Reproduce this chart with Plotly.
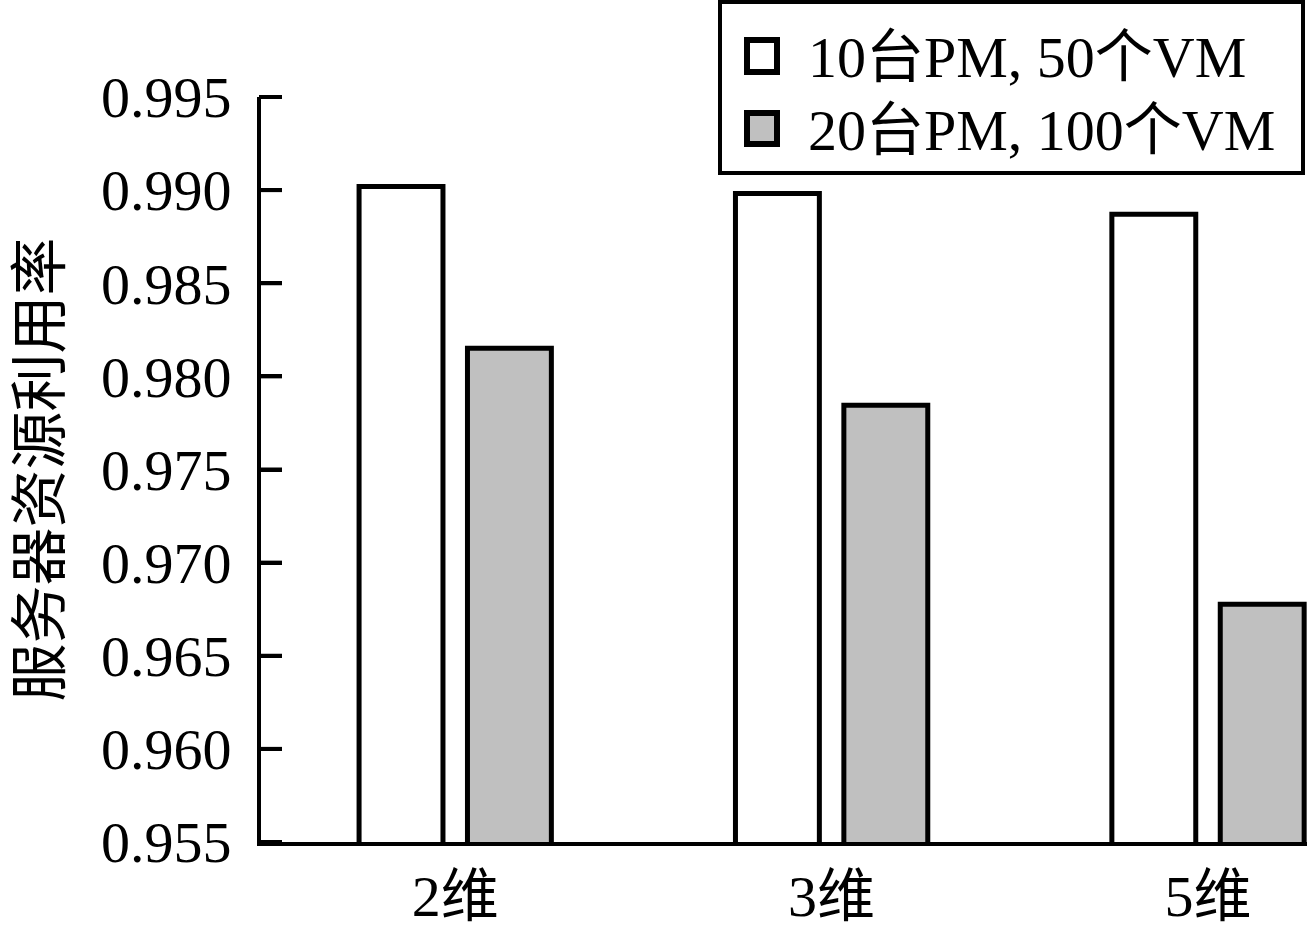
import plotly.graph_objects as go

categories = ["2维", "3维", "5维"]
series_names = ["10台PM, 50个VM", "20台PM, 100个VM"]
values_10pm = [0.99020, 0.98982, 0.98870]
values_20pm = [0.98151, 0.97845, 0.96777]
y_range = [0.955, 0.995]
y_tick_vals = [0.955, 0.960, 0.965, 0.970, 0.975, 0.980, 0.985, 0.990, 0.995]
y_title = "服务器资源利用率"
fills = ["white", "#c0c0c0"]

FONT = "Liberation Serif, 'Times New Roman', 'Noto Sans CJK SC', serif"
W, H = 1307, 934
ML, MR, MT, MB = 261, 0, 97, 92
PW, PH = W - ML - MR, H - MT - MB


def fx(px):
    return (px - ML) / PW


def fy(py):
    return (H - MB - py) / PH


fig = go.Figure()
for name, vals, col in zip(series_names, [values_10pm, values_20pm], fills):
    fig.add_trace(go.Bar(x=categories, y=vals, name=name, showlegend=False,
                         marker=dict(color=col, line=dict(color="black", width=5))))

shapes = []
# inward tick marks on the y axis (the end ticks are dropped by plotly, so draw them all)
for tv in y_tick_vals:
    yp = (tv - y_range[0]) / (y_range[1] - y_range[0])
    shapes.append(dict(type="line", xref="paper", xsizemode="pixel", xanchor=0, x0=-2, x1=21,
                       yref="paper", y0=yp, y1=yp, line=dict(color="black", width=4), layer="above"))

shapes.append(dict(type="rect", xref="paper", yref="paper", x0=fx(720), x1=fx(1303), y0=fy(173), y1=fy(2),
                   line=dict(color="black", width=4), fillcolor="white", layer="above"))
annotations = []
sq_y = [(40, 72), (113, 144)]
txt_y = [57, 130]
for i, (name, col) in enumerate(zip(series_names, fills)):
    shapes.append(dict(type="rect", xref="paper", yref="paper", x0=fx(747), x1=fx(777),
                       y0=fy(sq_y[i][1]), y1=fy(sq_y[i][0]),
                       line=dict(color="black", width=6), fillcolor=col, layer="above"))
    annotations.append(dict(xref="paper", yref="paper", x=fx(806), y=fy(txt_y[i]),
                            xanchor="left", yanchor="middle", text=name, showarrow=False,
                            font=dict(size=58)))

fig.update_layout(
    width=W, height=H,
    margin=dict(l=ML, r=MR, t=MT, b=MB),
    paper_bgcolor="white", plot_bgcolor="white",
    barmode="group", bargap=0.424, bargroupgap=0.226,
    font=dict(family=FONT, size=58, color="black"),
    showlegend=False,
    shapes=shapes, annotations=annotations,
)
fig.update_xaxes(type="category", range=[-0.516, 2.263], showline=True, linewidth=4,
                 linecolor="black", ticks="", showgrid=False, zeroline=False,
                 tickfont=dict(size=58))
fig.update_yaxes(range=y_range, tickvals=y_tick_vals, tickformat=".3f",
                 showline=True, linewidth=4, linecolor="black", ticks="inside",
                 ticklen=21, tickwidth=4, tickcolor="black", showgrid=False,
                 zeroline=False, tickfont=dict(size=58), ticklabelstandoff=14,
                 title=dict(text=y_title, font=dict(size=58), standoff=23))

fig.write_html("out.html", config={"displayModeBar": False},
               post_script="document.body.style.margin='0';document.body.style.overflow='hidden';")
